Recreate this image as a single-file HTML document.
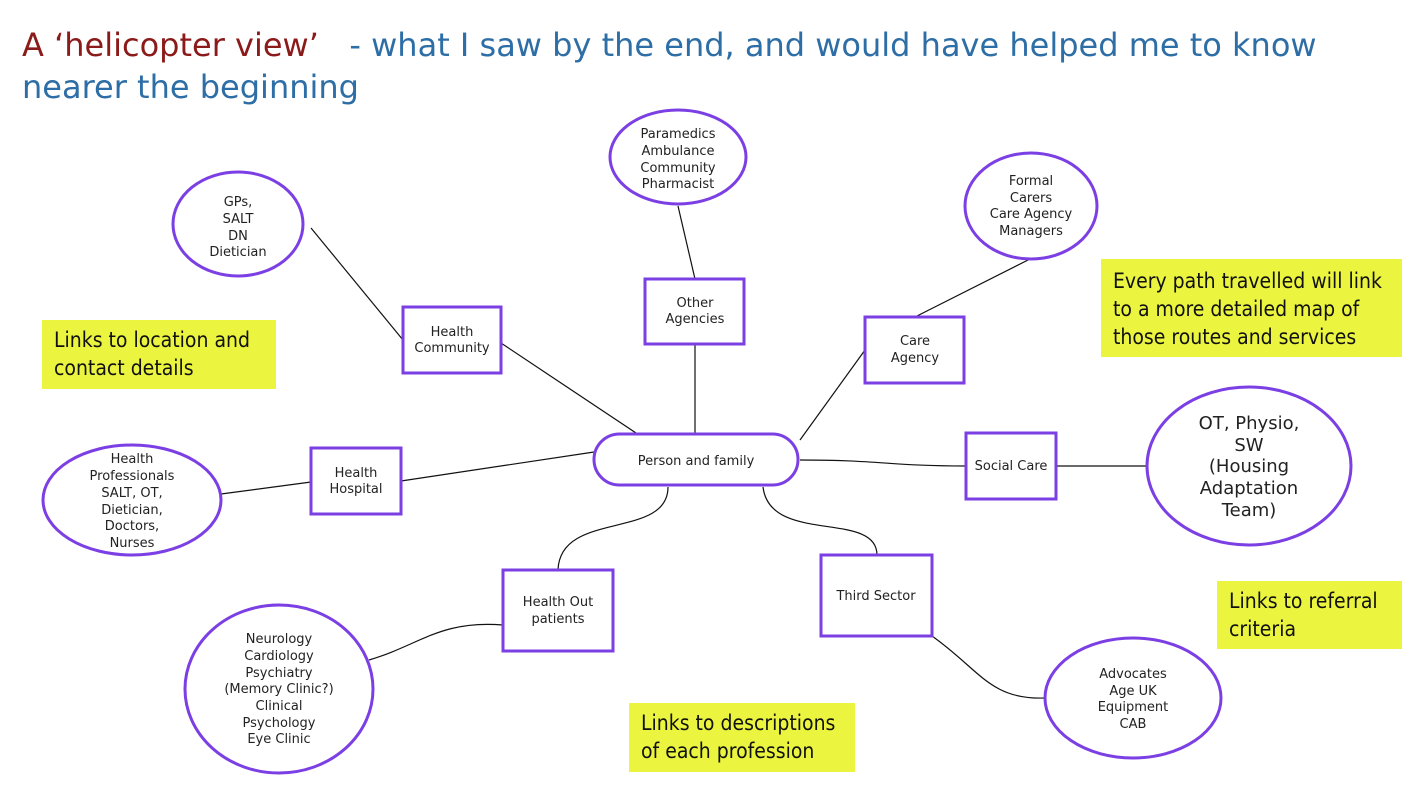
<!DOCTYPE html>
<html><head><meta charset="utf-8"><style>
body{margin:0;width:1425px;height:812px;background:#fff;position:relative;overflow:hidden;font-family:"Liberation Sans","DejaVu Sans",sans-serif}
.t{position:absolute;left:22px;font-size:32px;color:#2e6ea6;white-space:nowrap;font-family:"DejaVu Sans","Liberation Sans",sans-serif;letter-spacing:0}
.y{position:absolute;background:#ebf53f;font-size:21px;color:#111;line-height:28px;padding:6px 12px;box-sizing:border-box;font-family:"DejaVu Sans Condensed","Liberation Sans Narrow","Liberation Sans",sans-serif;white-space:nowrap}
svg text{font-family:"DejaVu Sans","Liberation Sans",sans-serif;font-size:13px;fill:#222;text-anchor:middle}
</style></head><body>
<div class="t" style="top:26px"><span style="color:#8b1a1a">A ‘helicopter view’</span> &nbsp;&nbsp;- what I saw by the end, and would have helped me to know</div>
<div class="t" style="top:68px">nearer the beginning</div>
<svg width="1425" height="812" style="position:absolute;left:0;top:0">
<g stroke="#111" stroke-width="1.2" fill="none">
<line x1="311" y1="228" x2="403" y2="340"/>
<line x1="678" y1="206" x2="695" y2="279"/>
<line x1="1030" y1="259" x2="915" y2="317"/>
<line x1="501" y1="343" x2="636" y2="433"/>
<line x1="695" y1="344" x2="695" y2="433"/>
<line x1="865" y1="350" x2="800" y2="440"/>
<path d="M800 460 C880 460 890 466 966 466"/>
<line x1="1056" y1="466" x2="1147" y2="466"/>
<line x1="401" y1="481" x2="594" y2="452"/>
<line x1="221" y1="494" x2="311" y2="482"/>
<path d="M668 487 C668 540 560 510 558 570"/>
<path d="M763 487 C770 545 877 510 877 555"/>
<path d="M503 625 C440 620 420 645 369 660"/>
<path d="M932 636 C980 670 990 700 1045 698"/>
</g>
<g stroke="#7b3fe4" stroke-width="3" fill="#fff">
<rect x="594" y="434" width="204" height="51" rx="25.5"/>
<rect x="403" y="307" width="98" height="66"/>
<rect x="645" y="279" width="99" height="65"/>
<rect x="865" y="317" width="99" height="66"/>
<rect x="966" y="433" width="90" height="66"/>
<rect x="311" y="448" width="90" height="66"/>
<rect x="503" y="570" width="110" height="81"/>
<rect x="821" y="555" width="111" height="81"/>
<ellipse cx="238" cy="224" rx="65" ry="52"/>
<ellipse cx="678" cy="157" rx="68" ry="47"/>
<ellipse cx="1031" cy="206" rx="66" ry="53"/>
<ellipse cx="1249" cy="466" rx="102" ry="79"/>
<ellipse cx="132" cy="500" rx="89" ry="55"/>
<ellipse cx="279" cy="689" rx="94" ry="84"/>
<ellipse cx="1133" cy="698" rx="88" ry="60"/>
</g>
<text x="696" y="465">Person and family</text>
<text x="452" y="336">Health</text><text x="452" y="352">Community</text>
<text x="695" y="307">Other</text><text x="695" y="323">Agencies</text>
<text x="915" y="345">Care</text><text x="915" y="362">Agency</text>
<text x="1011" y="470">Social Care</text>
<text x="356" y="477">Health</text><text x="356" y="493">Hospital</text>
<text x="558" y="606">Health Out</text><text x="558" y="623">patients</text>
<text x="876" y="600">Third Sector</text>
<text x="238" y="206">GPs,</text><text x="238" y="223">SALT</text><text x="238" y="240">DN</text><text x="238" y="256">Dietician</text>
<text x="678" y="138">Paramedics</text><text x="678" y="155">Ambulance</text><text x="678" y="172">Community</text><text x="678" y="188">Pharmacist</text>
<text x="1031" y="185">Formal</text><text x="1031" y="202">Carers</text><text x="1031" y="218">Care Agency</text><text x="1031" y="235">Managers</text>
<text x="132" y="463">Health</text><text x="132" y="480">Professionals</text><text x="132" y="497">SALT, OT,</text><text x="132" y="514">Dietician,</text><text x="132" y="530">Doctors,</text><text x="132" y="547">Nurses</text>
<text x="279" y="643">Neurology</text><text x="279" y="660">Cardiology</text><text x="279" y="677">Psychiatry</text><text x="279" y="693">(Memory Clinic?)</text><text x="279" y="710">Clinical</text><text x="279" y="727">Psychology</text><text x="279" y="743">Eye Clinic</text>
<text x="1133" y="678">Advocates</text><text x="1133" y="695">Age UK</text><text x="1133" y="711">Equipment</text><text x="1133" y="728">CAB</text>
<text x="1249" y="429" style="font-size:18px">OT, Physio,</text><text x="1249" y="451" style="font-size:18px">SW</text><text x="1249" y="472" style="font-size:18px">(Housing</text><text x="1249" y="494" style="font-size:18px">Adaptation</text><text x="1249" y="516" style="font-size:18px">Team)</text>
</svg>
<div class="y" style="left:42px;top:320px;width:234px;height:69px">Links to location and<br>contact details</div>
<div class="y" style="left:1101px;top:259px;width:301px;height:98px;padding-top:8px">Every path travelled will link<br>to a more detailed map of<br>those routes and services</div>
<div class="y" style="left:1217px;top:581px;width:185px;height:68px">Links to referral<br>criteria</div>
<div class="y" style="left:629px;top:703px;width:226px;height:69px">Links to descriptions<br>of each profession</div>
</body></html>
